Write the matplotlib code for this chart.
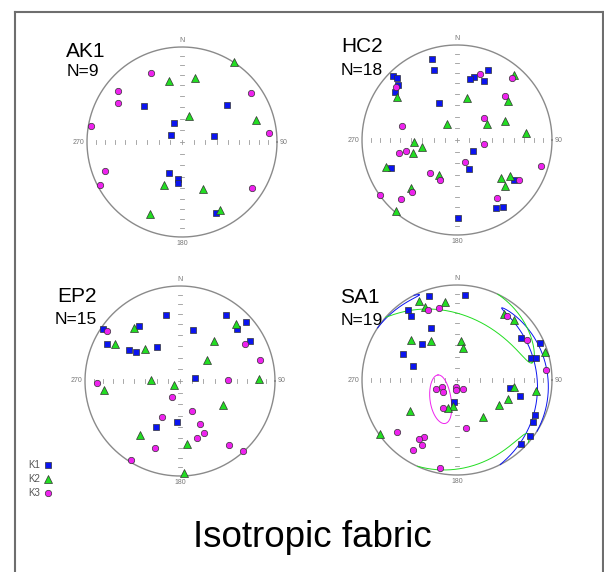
import numpy as np
import matplotlib
matplotlib.use('Agg')
import matplotlib.pyplot as plt
from matplotlib.lines import Line2D

plt.rcParams['font.family'] = ['Liberation Sans', 'DejaVu Sans']

W, H = 604, 572
R = 95          # net radius in pixels
L = 1.25        # axes half-extent in net units

# projected positions (east, north) on the net, unit = net radius
ak1_k1 = [(-0.40, 0.375), (0.47, 0.386), (-0.08, 0.196), (-0.116, 0.074), (0.333, 0.067),
          (-0.14, -0.33), (-0.039, -0.39), (-0.039, -0.435), (0.358, -0.747)]
ak1_k2 = [(0.551, 0.839), (-0.137, 0.642), (0.14, 0.674), (0.07, 0.277), (0.779, 0.232),
          (-0.19, -0.456), (0.225, -0.495), (-0.333, -0.754), (0.40, -0.72)]
ak1_k3 = [(-0.323, 0.73), (-0.674, 0.54), (-0.677, 0.41), (0.73, 0.512), (-0.954, 0.168),
          (0.916, 0.098), (-0.814, -0.305), (-0.863, -0.456), (0.74, -0.484)]

hc2_k1 = [(-0.267, 0.856), (-0.242, 0.733), (-0.677, 0.677), (-0.628, 0.649), (-0.621, 0.579),
          (-0.656, 0.509), (-0.193, 0.389), (0.33, 0.737), (0.175, 0.667), (0.133, 0.639),
          (0.284, 0.621), (0.165, -0.116), (0.123, -0.309), (-0.698, -0.298), (0.60, -0.418),
          (0.41, -0.712), (0.488, -0.702), (0.007, -0.825)]
hc2_k2 = [(0.604, 0.684), (-0.632, 0.453), (0.105, 0.439), (0.533, 0.41), (-0.109, 0.165),
          (0.319, 0.172), (0.502, 0.196), (0.726, 0.07), (-0.453, -0.025), (-0.365, -0.07),
          (-0.46, -0.137), (-0.744, -0.28), (-0.193, -0.365), (0.46, -0.404), (0.554, -0.375),
          (0.502, -0.488), (-0.484, -0.505), (-0.639, -0.744)]
hc2_k3 = [(0.239, 0.698), (0.575, 0.653), (0.502, 0.46), (0.284, 0.228), (-0.582, 0.151),
          (0.284, -0.039), (-0.54, -0.116), (-0.61, -0.14), (0.088, -0.228), (0.888, -0.27),
          (-0.284, -0.351), (-0.175, -0.418), (0.653, -0.421), (-0.477, -0.544), (-0.81, -0.579),
          (-0.593, -0.625), (0.425, -0.607), (-0.646, 0.554)]

ep2_k1 = [(-0.144, 0.698), (-0.435, 0.575), (-0.807, 0.547), (-0.772, 0.389), (-0.537, 0.326),
          (-0.463, 0.302), (-0.242, 0.354), (0.133, 0.537), (0.481, 0.691), (0.695, 0.618),
          (0.604, 0.551), (0.737, 0.418), (0.161, 0.032), (-0.028, -0.432), (-0.253, -0.481)]
ep2_k2 = [(-0.484, 0.558), (-0.688, 0.389), (-0.372, 0.333), (0.586, 0.604), (0.354, 0.421),
          (0.284, 0.218), (-0.305, 0.011), (-0.804, -0.095), (-0.063, -0.046), (0.828, 0.021),
          (0.453, -0.256), (-0.418, -0.565), (0.07, -0.66), (0.039, -0.965)]
ep2_k3 = [(-0.772, 0.526), (0.681, 0.389), (0.846, 0.225), (-0.877, -0.025), (0.509, 0.014),
          (-0.081, -0.168), (0.126, -0.312), (-0.193, -0.375), (0.211, -0.449), (0.249, -0.547),
          (0.182, -0.604), (-0.26, -0.709), (0.519, -0.67), (0.66, -0.737), (-0.516, -0.835)]

sa1_k1 = [(-0.298, 0.888), (0.084, 0.895), (-0.519, 0.737), (-0.488, 0.674), (-0.274, 0.544),
          (-0.372, 0.382), (-0.572, 0.277), (-0.46, 0.147), (0.677, 0.439), (0.87, 0.393),
          (0.782, 0.235), (0.828, 0.235), (0.554, -0.084), (0.667, -0.165), (-0.032, -0.232),
          (0.818, -0.365), (0.796, -0.446), (0.772, -0.593), (0.677, -0.677)]
sa1_k2 = [(-0.404, 0.835), (-0.337, 0.765), (-0.126, 0.821), (0.495, 0.691), (0.604, 0.635),
          (-0.488, 0.418), (-0.27, 0.414), (0.042, 0.407), (0.067, 0.34), (0.926, 0.295),
          (0.596, -0.07), (0.835, -0.119), (0.54, -0.2), (0.439, -0.263), (-0.042, -0.27),
          (-0.091, -0.298), (-0.498, -0.326), (0.274, -0.393), (-0.807, -0.572)]
sa1_k3 = [(-0.309, 0.737), (-0.189, 0.758), (0.526, 0.674), (0.737, 0.421), (0.937, 0.105),
          (-0.218, -0.095), (-0.154, -0.07), (-0.144, -0.13), (-0.014, -0.077), (-0.014, -0.105),
          (0.063, -0.091), (-0.144, -0.291), (0.095, -0.502), (-0.635, -0.544), (-0.344, -0.596),
          (-0.404, -0.621), (-0.365, -0.688), (-0.467, -0.74), (-0.182, -0.926)]

# SA1 confidence cones: mean trend, plunge, semi-angles (deg), rotation of major axis
sa1_cone_k1 = (95, 10, 62, 6, 8)
sa1_cone_k2 = (9, 14, 65, 18, -16)
sa1_cone_k3 = (220, 68, 21, 9, -43)

# tick marks on the diameters: every 10 degrees of plunge
tick_plunges = [10, 20, 30, 40, 50, 60, 70, 80, 90]

nets = [
    ('AK1', 'N=9', (182, 142), (66, 57), (67, 76), ak1_k1, ak1_k2, ak1_k3, None),
    ('HC2', 'N=18', (457, 140), (341, 52), (341, 75), hc2_k1, hc2_k2, hc2_k3, None),
    ('EP2', 'N=15', (180, 381), (57, 302), (55, 324), ep2_k1, ep2_k2, ep2_k3, None),
    ('SA1', 'N=19', (457, 380), (340, 303), (341, 325), sa1_k1, sa1_k2, sa1_k3,
     [sa1_cone_k1, sa1_cone_k2, sa1_cone_k3]),
]

BLUE = '#0a14f0'
GREEN = '#22dd22'
MAGENTA = '#ee22ee'
styles = [dict(marker='s', ms=4.6, mfc=BLUE),
          dict(marker='^', ms=5.4, mfc=GREEN),
          dict(marker='o', ms=4.6, mfc=MAGENTA)]
cone_colors = [BLUE, GREEN, MAGENTA]


def cone(trend, plunge, a, b, rot, n=721):
    t, p, a, b, rot = np.radians([trend, plunge, a, b, rot])
    m = np.array([np.sin(t) * np.cos(p), np.cos(t) * np.cos(p), np.sin(p)])
    h = np.array([np.cos(t), -np.sin(t), 0.0])
    w = np.cross(m, h)
    u = np.cos(rot) * h + np.sin(rot) * w
    v = np.cross(m, u)
    s = np.linspace(0, 2 * np.pi, n)
    d = (m[:, None] + np.tan(a) * np.cos(s) * u[:, None]
         + np.tan(b) * np.sin(s) * v[:, None])
    d /= np.linalg.norm(d, axis=0)
    d[:, d[2] < 0] *= -1          # upper hemisphere -> antipode
    r = np.sqrt(np.clip(1 - d[2], 0, None))
    hh = np.hypot(d[0], d[1])
    hh[hh == 0] = 1
    x, y = r * d[0] / hh, r * d[1] / hh
    jump = np.hypot(np.diff(x), np.diff(y)) > 0.3
    x = np.insert(x, np.where(jump)[0] + 1, np.nan)
    y = np.insert(y, np.where(jump)[0] + 1, np.nan)
    return x, y


fig = plt.figure(figsize=(W / 100, H / 100), dpi=100)
fig.patch.set_facecolor('white')

# equal-area radius of each tick plunge
tk = np.sqrt(1 - np.sin(np.radians(tick_plunges)))
tk = tk[tk > 0.01]

for name, ntxt, (cx, cy), tpos, npos, k1, k2, k3, cones in nets:
    ax = fig.add_axes([(cx - L * R) / W, (H - cy - L * R) / H, 2 * L * R / W, 2 * L * R / H])
    ax.set_xlim(-L, L)
    ax.set_ylim(-L, L)
    ax.axis('off')
    ax.patch.set_alpha(0)
    th = np.linspace(0, 2 * np.pi, 400)
    ax.plot(np.cos(th), np.sin(th), color='#8a8a8a', lw=1.0, zorder=1)
    for t in np.concatenate([-tk, [0], tk]):
        ax.plot([t, t], [-0.018, 0.018], color='#9a9a9a', lw=0.6, zorder=1)
        ax.plot([-0.018, 0.018], [t, t], color='#9a9a9a', lw=0.6, zorder=1)
    ax.text(0, 1.03, 'N', ha='center', va='bottom', fontsize=5, color='#777777')
    ax.text(1.03, 0, '90', ha='left', va='center', fontsize=5, color='#777777')
    ax.text(0, -1.03, '180', ha='center', va='top', fontsize=5, color='#777777')
    ax.text(-1.03, 0, '270', ha='right', va='center', fontsize=5, color='#777777')
    if cones:
        for c, col in zip(cones, cone_colors):
            x, y = cone(*c)
            ax.plot(x, y, color=col, lw=0.7, zorder=2)
    for pts, st in zip([k1, k2, k3], styles):
        e = [q[0] for q in pts]
        nn = [q[1] for q in pts]
        ax.plot(e, nn, ls='none', mec='#333333', mew=0.5, zorder=3, **st)
    fig.text(tpos[0] / W, 1 - tpos[1] / H, name, fontsize=15, va='baseline')
    fig.text(npos[0] / W, 1 - npos[1] / H, ntxt, fontsize=12.5, va='baseline')

# legend
for i, (lab, st) in enumerate(zip(['K1', 'K2', 'K3'], styles)):
    yy = 464.5 + i * 14
    fig.text(28 / W, 1 - (yy + 3.5) / H, lab, fontsize=7, color='#555555', va='baseline')
    fig.add_artist(Line2D([47.5 / W], [1 - yy / H], ls='none', mec='#333333', mew=0.5,
                          transform=fig.transFigure, **st))

fig.text(312 / W, 1 - 547 / H, 'Isotropic fabric', fontsize=26.5, ha='center', va='baseline')

# frame
fc = '#6e6e6e'
fig.add_artist(Line2D([14.5 / W, 14.5 / W], [0, 1 - 11.5 / H], color=fc, lw=1.5, transform=fig.transFigure))
fig.add_artist(Line2D([14.5 / W, 602.5 / W], [1 - 11.5 / H, 1 - 11.5 / H], color=fc, lw=1.5, transform=fig.transFigure))
fig.add_artist(Line2D([602.5 / W, 602.5 / W], [0, 1 - 11.5 / H], color=fc, lw=1.5, transform=fig.transFigure))

fig.savefig('out.png', dpi=100)
